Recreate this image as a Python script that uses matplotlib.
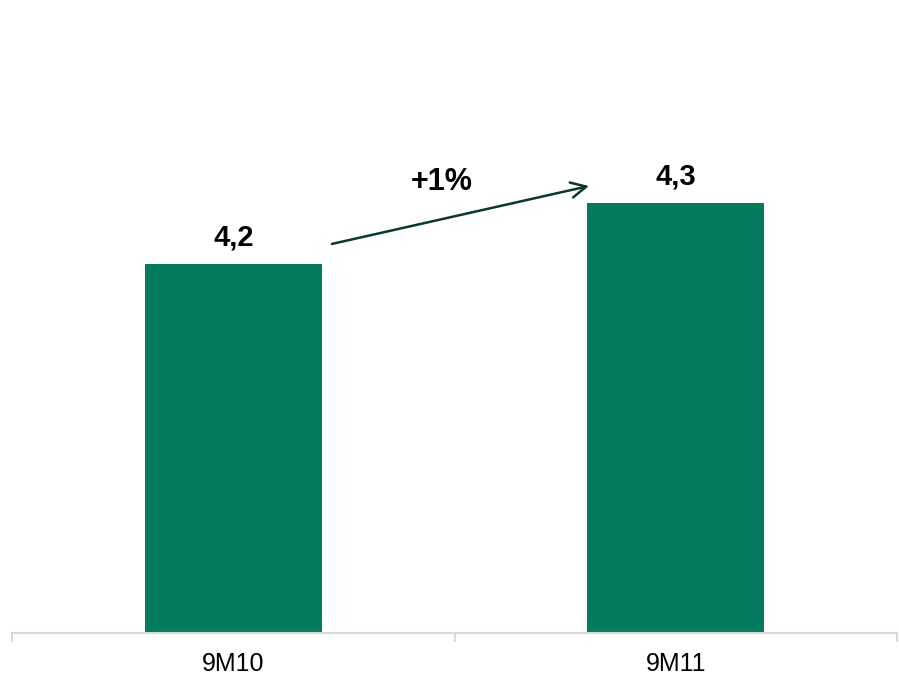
import numpy as np
import matplotlib
matplotlib.use("Agg")
import matplotlib.pyplot as plt

plt.rcParams['font.family'] = ['Liberation Sans', 'DejaVu Sans']

# data
categories = ["9M10", "9M11"]
values = [4.2, 4.3]
value_labels = ["4,2", "4,3"]
growth_label = "+1%"

bar_color = "#037B5C"
arrow_color = "#0B3A22"
axis_color = "#D9D9D9"
bar_width = 0.4

fig = plt.figure(figsize=(8.99, 6.77), dpi=100)
ax = fig.add_axes([12 / 899, 44 / 677, 885 / 899, 633 / 677])

x = np.arange(len(categories))
bars = ax.bar(x, values, width=bar_width, color=bar_color, zorder=2)

ax.set_xlim(-0.5, len(categories) - 0.5)
ax.set_ylim(3.595, 4.633)

# value labels above bars
ax.bar_label(bars, labels=value_labels, padding=9, fontsize=21,
             fontweight="bold", color="black")

# growth arrow between the bars
ax.annotate("", xy=(x[1] - bar_width / 2 + 0.004, values[1] + 0.028),
            xytext=(x[0] + bar_width / 2 + 0.023, values[0] + 0.033),
            arrowprops=dict(arrowstyle="->,head_length=1.1,head_width=0.55",
                            color=arrow_color, lw=1.8,
                            shrinkA=0, shrinkB=0))
ax.text((x[0] + x[1]) / 2 - 0.03, values[1] + 0.01, growth_label,
        ha="center", va="bottom", fontsize=22, fontweight="bold",
        color="black")

# axes styling
for side in ("top", "right", "left"):
    ax.spines[side].set_visible(False)
ax.spines["bottom"].set_color(axis_color)
ax.spines["bottom"].set_linewidth(1.5)
ax.set_yticks([])

ax.set_xticks([-0.5, 0.5, 1.5], minor=False)
ax.set_xticklabels([])
ax.tick_params(axis="x", which="major", length=6.5, width=1.5,
               color=axis_color)
ax.set_xticks(x, minor=True)
ax.set_xticklabels(categories, minor=True, fontsize=18)
ax.tick_params(axis="x", which="minor", length=0, pad=14)

fig.savefig("out.png", dpi=100)
